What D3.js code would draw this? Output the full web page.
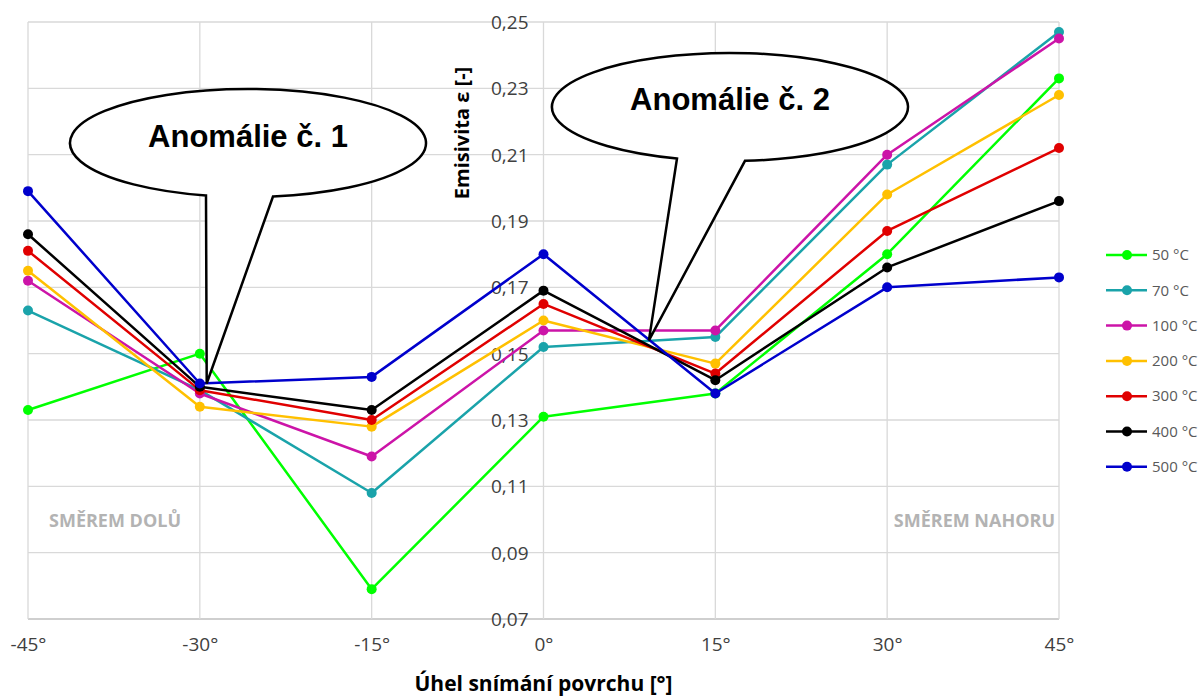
<!DOCTYPE html>
<html>
<head>
<meta charset="utf-8">
<script src="https://cdn.jsdelivr.net/npm/d3@7"></script>
<style>
  html, body { margin: 0; padding: 0; background: #fff; }
  svg { display: block; }
  .tick-label { font-family: "Open Sans", "Lato", sans-serif; font-size: 19px; fill: #404040; }
  .axis-title { font-family: "Open Sans", "Lato", sans-serif; font-size: 20px; font-weight: bold; fill: #000; }
  .legend-label { font-family: "Open Sans", "Lato", sans-serif; font-size: 15px; fill: #595959; }
  .direction { font-family: "Open Sans", "Lato", sans-serif; font-size: 18px; font-weight: bold; fill: #b3b3b3; }
  .callout-text { font-family: "Liberation Sans", Arial, sans-serif; font-size: 31px; font-weight: bold; fill: #000; }
</style>
</head>
<body>
<svg id="chart" width="1204" height="696"></svg>
<script>
// Viewing angle categories and tick labels
const angles = [-45, -30, -15, 0, 15, 30, 45];
const angleLabels = ["-45°", "-30°", "-15°", "0°", "15°", "30°", "45°"];
const yTicks = [0.07, 0.09, 0.11, 0.13, 0.15, 0.17, 0.19, 0.21, 0.23, 0.25];

// Emissivity per temperature, one value per angle
const seriesNames = ["50 °C", "70 °C", "100 °C", "200 °C", "300 °C", "400 °C", "500 °C"];
const seriesColors = ["#00ff00", "#1aa3aa", "#cc14a8", "#ffc000", "#e00000", "#000000", "#0000cc"];
const e50  = [0.133, 0.150, 0.079, 0.131, 0.138, 0.180, 0.233];
const e70  = [0.163, 0.139, 0.108, 0.152, 0.155, 0.207, 0.247];
const e100 = [0.172, 0.138, 0.119, 0.157, 0.157, 0.210, 0.245];
const e200 = [0.175, 0.134, 0.128, 0.160, 0.147, 0.198, 0.228];
const e300 = [0.181, 0.139, 0.130, 0.165, 0.144, 0.187, 0.212];
const e400 = [0.186, 0.140, 0.133, 0.169, 0.142, 0.176, 0.196];
const e500 = [0.199, 0.141, 0.143, 0.180, 0.138, 0.170, 0.173];
const seriesValues = [e50, e70, e100, e200, e300, e400, e500];

// Callout annotations (anchor given in data units)
const calloutTexts = ["Anomálie č. 1", "Anomálie č. 2"];
const calloutAnchors = [[-29.4, 0.141], [9.2, 0.154]];

const svg = d3.select("#chart");

const x = d3.scaleLinear().domain([-45, 45]).range([28, 1059]);
const y = d3.scaleLinear().domain([0.07, 0.25]).range([619, 22]);
const fmt = v => d3.format(".2f")(v).replace(".", ",");

// Gridlines
const grid = svg.append("g");
grid.selectAll("line.h").data(yTicks).join("line")
  .attr("x1", x(-45)).attr("x2", x(45))
  .attr("y1", d => y(d)).attr("y2", d => y(d))
  .attr("stroke", d => d === 0.07 ? "#bfbfbf" : "#d9d9d9").attr("stroke-width", 1.3);
grid.selectAll("line.v").data(angles).join("line")
  .attr("x1", d => x(d)).attr("x2", d => x(d))
  .attr("y1", y(0.25)).attr("y2", y(0.07))
  .attr("stroke", "#d9d9d9").attr("stroke-width", 1.3);

// Y axis labels sit left of the 0° line
const yAxis = svg.append("g").attr("transform", `translate(${x(0)},0)`)
  .call(d3.axisLeft(y).tickValues(yTicks).tickFormat(fmt).tickSize(0).tickPadding(15));
yAxis.select(".domain").remove();
yAxis.selectAll("text").attr("class", "tick-label").attr("font-family", null).attr("font-size", null).attr("dy", "0.35em");

// X axis labels below the plot
const xAxis = svg.append("g").attr("transform", `translate(0,${y(0.07)})`)
  .call(d3.axisBottom(x).tickValues(angles).tickFormat((d, i) => angleLabels[i]).tickSize(0).tickPadding(19));
xAxis.select(".domain").remove();
xAxis.selectAll("text").attr("class", "tick-label").attr("font-family", null).attr("font-size", null);

// Axis titles
svg.append("text").attr("class", "axis-title")
  .attr("transform", `translate(469,133) rotate(-90)`)
  .attr("text-anchor", "middle").text("Emisivita ε [-]");
svg.append("text").attr("class", "axis-title")
  .attr("x", x(0)).attr("y", 691).attr("text-anchor", "middle").style("font-size", "21px")
  .text("Úhel snímání povrchu [°]");

// Direction labels
svg.append("text").attr("class", "direction").attr("x", 49).attr("y", 527).text("SMĚREM DOLŮ");
svg.append("text").attr("class", "direction").attr("x", 1055).attr("y", 527).attr("text-anchor", "end").text("SMĚREM NAHORU");

// Series lines and markers
const line = d3.line().x((d, i) => x(angles[i])).y(d => y(d));
seriesValues.forEach((vals, s) => {
  const g = svg.append("g");
  g.append("path").attr("d", line(vals)).attr("fill", "none")
    .attr("stroke", seriesColors[s]).attr("stroke-width", 2.5).attr("stroke-linejoin", "round");
  g.selectAll("circle").data(vals).join("circle")
    .attr("cx", (d, i) => x(angles[i])).attr("cy", d => y(d)).attr("r", 5)
    .attr("fill", seriesColors[s]);
});

// Callouts: ellipse bubble with a wedge pointing to the anchor
const calloutGeom = [
  { cx: 248, cy: 143, rx: 178, ry: 54, baseX: [206, 273], textDy: 4 },
  { cx: 730, cy: 107, rx: 178, ry: 54, baseX: [677, 745], textDy: 3 }
];
calloutGeom.forEach((c, k) => {
  const onEllipse = bx => c.cy + c.ry * Math.sqrt(1 - Math.pow((bx - c.cx) / c.rx, 2));
  const b1 = [c.baseX[0], onEllipse(c.baseX[0])];
  const b2 = [c.baseX[1], onEllipse(c.baseX[1])];
  const tip = [x(calloutAnchors[k][0]), y(calloutAnchors[k][1])];
  const p = `M${b1[0]},${b1[1]} L${tip[0]},${tip[1]} L${b2[0]},${b2[1]} ` +
            `A${c.rx},${c.ry} 0 1 0 ${b1[0]},${b1[1]} Z`;
  svg.append("path").attr("d", p).attr("fill", "#fff").attr("stroke", "#000")
    .attr("stroke-width", 2.5).attr("stroke-linejoin", "miter");
  svg.append("text").attr("class", "callout-text")
    .attr("x", c.cx).attr("y", c.cy + c.textDy).attr("text-anchor", "middle")
    .text(calloutTexts[k]);
});

// Legend
const legend = svg.append("g");
seriesNames.forEach((name, s) => {
  const ly = 255 + s * 35.3;
  legend.append("line").attr("x1", 1106).attr("x2", 1147).attr("y1", ly).attr("y2", ly)
    .attr("stroke", seriesColors[s]).attr("stroke-width", 2.5);
  legend.append("circle").attr("cx", 1127).attr("cy", ly).attr("r", 5).attr("fill", seriesColors[s]);
  legend.append("text").attr("class", "legend-label").attr("x", 1152).attr("y", ly).attr("dy", "0.35em").text(name);
});
</script>
</body>
</html>
